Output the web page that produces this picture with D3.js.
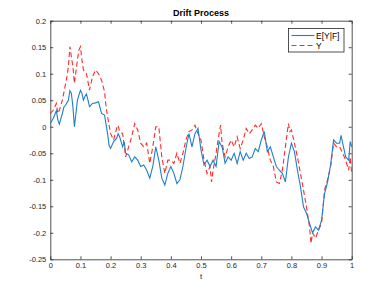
<!DOCTYPE html>
<html>
<head>
<meta charset="utf-8">
<script src="https://cdn.jsdelivr.net/npm/d3@7"></script>
<style>
  body { margin: 0; background: #fff; }
  svg { display: block; font-family: "Liberation Sans", Arial, sans-serif; }
</style>
</head>
<body>
<div id="chart"></div>
<script>
// Data
const tBlue = [0, 0.01, 0.02, 0.025, 0.03, 0.035, 0.04, 0.045, 0.05, 0.055, 0.06, 0.065, 0.07, 0.075, 0.08, 0.085, 0.09, 0.1, 0.105, 0.11, 0.115, 0.12, 0.125, 0.13, 0.135, 0.14, 0.15, 0.16, 0.17, 0.18, 0.19, 0.195, 0.2, 0.21, 0.22, 0.225, 0.23, 0.24, 0.245, 0.25, 0.26, 0.27, 0.28, 0.29, 0.3, 0.31, 0.32, 0.33, 0.34, 0.35, 0.36, 0.37, 0.38, 0.39, 0.4, 0.41, 0.42, 0.43, 0.44, 0.45, 0.46, 0.47, 0.48, 0.49, 0.5, 0.51, 0.52, 0.53, 0.54, 0.55, 0.56, 0.57, 0.58, 0.59, 0.6, 0.61, 0.62, 0.63, 0.64, 0.65, 0.66, 0.67, 0.68, 0.69, 0.7, 0.71, 0.72, 0.73, 0.74, 0.75, 0.76, 0.77, 0.78, 0.79, 0.8, 0.81, 0.82, 0.83, 0.84, 0.85, 0.86, 0.87, 0.88, 0.89, 0.9, 0.91, 0.92, 0.93, 0.94, 0.95, 0.96, 0.965, 0.97, 0.98, 0.99, 0.995, 1];
const condExp = [0.006, 0.016, 0.03, 0.013, 0.005, 0.015, 0.025, 0.037, 0.04, 0.045, 0.05, 0.068, 0.063, 0.038, 0.0, 0.025, 0.05, 0.069, 0.063, 0.05, 0.057, 0.062, 0.05, 0.038, 0.041, 0.044, 0.045, 0.047, 0.025, 0.022, -0.013, -0.035, -0.041, -0.028, -0.022, -0.013, -0.019, -0.038, -0.028, -0.05, -0.053, -0.066, -0.057, -0.063, -0.075, -0.072, -0.082, -0.097, -0.075, -0.038, -0.063, -0.097, -0.11, -0.088, -0.075, -0.088, -0.107, -0.1, -0.075, -0.041, -0.013, -0.038, -0.013, -0.003, -0.044, -0.072, -0.063, -0.075, -0.063, -0.075, -0.028, -0.038, -0.069, -0.057, -0.063, -0.05, -0.069, -0.047, -0.063, -0.05, -0.06, -0.057, -0.041, -0.047, -0.025, -0.009, -0.047, -0.038, -0.057, -0.075, -0.082, -0.088, -0.104, -0.057, -0.031, -0.047, -0.082, -0.113, -0.151, -0.163, -0.182, -0.2, -0.189, -0.195, -0.176, -0.126, -0.104, -0.072, -0.025, -0.031, -0.031, -0.016, -0.031, -0.057, -0.063, -0.028, -0.038];

const tRed = [0, 0.01, 0.02, 0.025, 0.03, 0.04, 0.05, 0.055, 0.06, 0.065, 0.07, 0.075, 0.08, 0.085, 0.09, 0.095, 0.1, 0.105, 0.11, 0.12, 0.125, 0.13, 0.14, 0.15, 0.16, 0.17, 0.18, 0.185, 0.19, 0.2, 0.21, 0.22, 0.225, 0.23, 0.24, 0.25, 0.26, 0.27, 0.28, 0.29, 0.3, 0.31, 0.32, 0.33, 0.34, 0.35, 0.36, 0.37, 0.38, 0.39, 0.4, 0.41, 0.42, 0.43, 0.44, 0.45, 0.46, 0.47, 0.48, 0.49, 0.5, 0.51, 0.52, 0.53, 0.535, 0.54, 0.55, 0.56, 0.565, 0.57, 0.58, 0.59, 0.6, 0.61, 0.62, 0.63, 0.64, 0.65, 0.66, 0.67, 0.68, 0.69, 0.7, 0.71, 0.72, 0.73, 0.74, 0.75, 0.76, 0.77, 0.78, 0.79, 0.795, 0.8, 0.81, 0.82, 0.83, 0.84, 0.85, 0.86, 0.865, 0.87, 0.88, 0.89, 0.9, 0.91, 0.92, 0.93, 0.94, 0.95, 0.96, 0.97, 0.98, 0.99, 0.995, 1];
const yValues = [0.025, 0.031, 0.044, 0.025, 0.031, 0.05, 0.079, 0.094, 0.113, 0.151, 0.132, 0.113, 0.082, 0.104, 0.126, 0.145, 0.151, 0.126, 0.107, 0.1, 0.085, 0.069, 0.094, 0.107, 0.1, 0.088, 0.066, 0.038, 0.019, -0.013, -0.025, -0.003, 0.003, -0.009, -0.013, -0.057, -0.038, -0.019, 0.006, -0.006, -0.031, -0.038, -0.031, -0.069, -0.038, 0.0, 0.0, -0.057, -0.088, -0.063, -0.063, -0.069, -0.05, -0.069, -0.05, -0.025, -0.009, -0.006, 0.003, -0.013, -0.025, -0.063, -0.088, -0.075, -0.104, -0.082, -0.05, -0.013, 0.003, -0.031, -0.057, -0.038, -0.025, -0.038, -0.019, -0.041, -0.025, -0.003, -0.013, -0.006, 0.003, -0.003, 0.006, -0.019, -0.038, -0.063, -0.075, -0.104, -0.107, -0.082, -0.038, 0.006, -0.009, -0.006, -0.031, -0.057, -0.088, -0.119, -0.151, -0.189, -0.22, -0.2, -0.21, -0.195, -0.182, -0.119, -0.1, -0.075, -0.031, -0.038, -0.038, -0.05, -0.063, -0.082, -0.057, -0.088];

const xTicks = [0, 0.1, 0.2, 0.3, 0.4, 0.5, 0.6, 0.7, 0.8, 0.9, 1];
const yTicks = [-0.25, -0.2, -0.15, -0.1, -0.05, 0, 0.05, 0.1, 0.15, 0.2];
const seriesNames = ["E[Y|F]", "Y"];

const width = 388, height = 291;
const margin = { top: 20.7, right: 36.3, bottom: 31.7, left: 50.3 };

const svg = d3.select("#chart").append("svg")
  .attr("width", width)
  .attr("height", height);

const x = d3.scaleLinear().domain([0, 1]).range([margin.left, width - margin.right]);
const y = d3.scaleLinear().domain([-0.25, 0.2]).range([height - margin.bottom, margin.top]);

const axisColor = "#262626";
const dash = "5,3";
const fmt = d => d === 0 ? "0" : String(d);

// axes, MATLAB box style with inward ticks on all sides
const styleAxis = g => {
  g.select(".domain").attr("stroke", axisColor).attr("stroke-width", 0.8);
  g.selectAll(".tick line").attr("stroke", axisColor).attr("stroke-width", 0.8);
  g.selectAll(".tick text").attr("fill", axisColor).attr("font-size", 7.5);
};

svg.append("g")
  .attr("transform", `translate(0,${y(-0.25)})`)
  .call(d3.axisBottom(x).tickValues(xTicks).tickFormat(fmt).tickSizeInner(-3).tickSizeOuter(0).tickPadding(3))
  .call(styleAxis);

svg.append("g")
  .attr("transform", `translate(0,${y(0.2)})`)
  .call(d3.axisTop(x).tickValues(xTicks).tickFormat("").tickSizeInner(-3).tickSizeOuter(0))
  .call(styleAxis);

svg.append("g")
  .attr("transform", `translate(${x(0)},0)`)
  .call(d3.axisLeft(y).tickValues(yTicks).tickFormat(fmt).tickSizeInner(-3).tickSizeOuter(0).tickPadding(4))
  .call(styleAxis);

svg.append("g")
  .attr("transform", `translate(${x(1)},0)`)
  .call(d3.axisRight(y).tickValues(yTicks).tickFormat("").tickSizeInner(-3).tickSizeOuter(0))
  .call(styleAxis);

// lines
const line = d3.line().x(d => x(d[0])).y(d => y(d[1]));

svg.append("path")
  .datum(d3.zip(tRed, yValues))
  .attr("d", line)
  .attr("fill", "none")
  .attr("stroke", "#ff2a2a")
  .attr("stroke-width", 1.1)
  .attr("stroke-dasharray", dash);

svg.append("path")
  .datum(d3.zip(tBlue, condExp))
  .attr("d", line)
  .attr("fill", "none")
  .attr("stroke", "#1f7fc9")
  .attr("stroke-width", 1.1);

// title and label
svg.append("text")
  .attr("x", (x(0) + x(1)) / 2)
  .attr("y", 16)
  .attr("text-anchor", "middle")
  .attr("font-size", 9)
  .attr("font-weight", "bold")
  .attr("fill", "#000")
  .text("Drift Process");

svg.append("text")
  .attr("x", (x(0) + x(1)) / 2)
  .attr("y", 278.5)
  .attr("text-anchor", "middle")
  .attr("font-size", 8)
  .attr("fill", axisColor)
  .text("t");

// legend
const legend = svg.append("g").attr("transform", "translate(288.5,28.5)");
legend.append("rect")
  .attr("width", 55.5)
  .attr("height", 23.5)
  .attr("fill", "#fff")
  .attr("stroke", axisColor)
  .attr("stroke-width", 0.8);

const legendStyles = [
  { color: "#1f7fc9", dash: null },
  { color: "#ff2a2a", dash: dash }
];
seriesNames.forEach((name, i) => {
  const ly = 7 + i * 10;
  legend.append("line")
    .attr("x1", 3).attr("x2", 26)
    .attr("y1", ly).attr("y2", ly)
    .attr("stroke", legendStyles[i].color)
    .attr("stroke-width", 1.1)
    .attr("stroke-dasharray", legendStyles[i].dash);
  legend.append("text")
    .attr("x", 27.5)
    .attr("y", ly + 3)
    .attr("font-size", 8.5)
    .attr("fill", "#000")
    .text(name);
});
</script>
</body>
</html>
